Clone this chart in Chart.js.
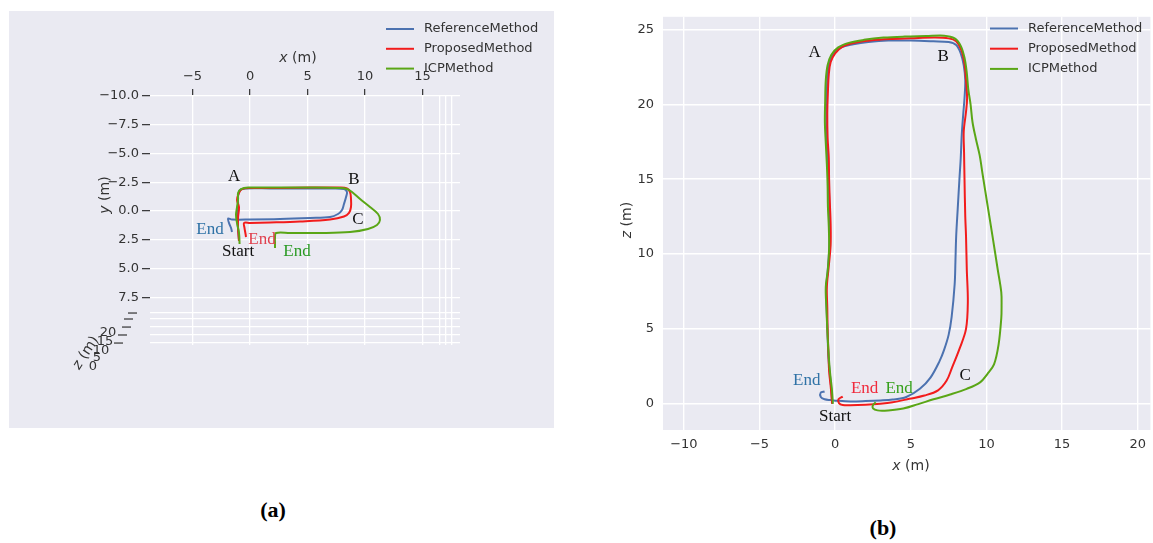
<!DOCTYPE html>
<html>
<head>
<meta charset="utf-8">
<script src="https://cdn.jsdelivr.net/npm/chart.js@4.4.1/dist/chart.umd.min.js"></script>
<style>
  html, body { margin: 0; padding: 0; background: #ffffff; }
  body { width: 1153px; height: 543px; position: relative; overflow: hidden; font-family: "DejaVu Sans", sans-serif; }
  #wrapA { position: absolute; left: 9px; top: 11px; width: 545px; height: 417px; }
  #wrapB { position: absolute; left: 600px; top: 0px; width: 553px; height: 490px; }
  .cap { position: absolute; transform: translate(-50%, -50%); font-family: "Liberation Serif", "DejaVu Serif", serif; font-weight: bold; font-size: 22px; color: #000; }
</style>
</head>
<body>
<div id="wrapA"><canvas id="chartA" width="545" height="417"></canvas></div>
<div id="wrapB"><canvas id="chartB" width="553" height="490"></canvas></div>
<div class="cap" style="left:273px; top:510px;">(a)</div>
<div class="cap" style="left:883px; top:528px;">(b)</div>

<script>
// ---- series ----
const seriesNames  = ['ReferenceMethod', 'ProposedMethod', 'ICPMethod'];
const seriesColors = ['#4c72b0', '#f21c1c', '#5aa616'];

// (a) 3D view, projected onto the x (m) / y (m) plane
const refA = [[-0.96,2.61],[-1.04,1.57],[-1.13,0.52],[-1.04,-0.52],[-1.04,-1.30],[-0.87,-1.83],[-0.35,-1.96],
  [1.74,-1.96],[4.35,-1.96],[6.96,-1.96],[8.17,-1.91],[8.43,-1.65],[8.35,-1.22],[8.17,-0.61],[8.0,-0.09],
  [7.65,0.26],[6.96,0.52],[5.22,0.61],[2.61,0.70],[0,0.74],[-1.57,0.74],[-1.91,0.65],[-1.83,1.04],[-1.65,1.48],[-1.57,1.83]];
const propA = [[-0.96,2.61],[-1.04,1.57],[-1.04,0.52],[-0.96,-0.35],[-1.13,-0.96],[-0.96,-1.57],[-0.70,-1.91],
  [0,-2.0],[2.61,-2.0],[5.22,-2.04],[7.83,-2.04],[8.43,-1.96],[8.70,-1.65],[8.78,-1.04],[8.78,-0.35],[8.61,0.17],
  [8.17,0.48],[6.96,0.74],[4.35,0.91],[1.74,1.0],[0,1.04],[-0.52,1.04],[-0.48,1.48],[-0.39,2.0],[-0.35,2.26]];
const icpA = [[-0.91,2.87],[-0.96,1.91],[-1.13,1.04],[-1.22,0.35],[-1.13,-0.35],[-1.04,-1.04],[-1.04,-1.57],
  [-0.78,-1.91],[-0.17,-2.04],[2.61,-2.04],[5.22,-2.04],[7.83,-2.0],[8.43,-1.91],[8.87,-1.65],[9.57,-1.04],
  [10.43,-0.35],[11.13,0.26],[11.30,0.78],[11.04,1.22],[10.26,1.57],[8.70,1.83],[6.09,1.91],[3.48,1.91],
  [2.26,1.91],[2.17,2.35],[2.17,2.78],[2.17,3.22]];

// (b) top view, x (m) / z (m)
const refB = [[-0.2,0.0],[-0.25,0.9],[-0.35,2.0],[-0.45,3.2],[-0.5,4.6],[-0.55,6.0],[-0.6,7.6],[-0.5,8.8],
  [-0.4,10.2],[-0.35,11.6],[-0.38,13.0],[-0.42,14.6],[-0.48,16.0],[-0.55,17.6],[-0.58,19.2],[-0.55,20.6],
  [-0.5,22.0],[-0.38,22.8],[-0.1,23.4],[0.4,23.8],[1.2,24.0],[2.2,24.15],[3.5,24.25],[5.0,24.25],[6.5,24.2],
  [7.5,24.15],[8.0,23.95],[8.3,23.4],[8.5,22.6],[8.6,21.6],[8.55,20.4],[8.47,19.4],[8.37,18.0],[8.3,16.4],
  [8.22,15.1],[8.1,13.0],[8.0,11.2],[7.95,9.5],[7.9,8.0],[7.7,5.8],[7.5,4.6],[7.2,3.6],[6.9,2.85],[6.3,1.75],
  [5.6,1.0],[4.7,0.45],[3.8,0.28],[3.0,0.22],[2.0,0.18],[1.0,0.16],[0.2,0.2],[-0.3,0.25],[-0.7,0.3],
  [-0.95,0.45],[-0.95,0.75],[-0.7,0.82]];
const propB = [[-0.2,0.0],[-0.28,1.0],[-0.4,2.2],[-0.45,3.6],[-0.5,5.0],[-0.52,6.4],[-0.55,7.8],[-0.42,9.2],
  [-0.3,10.6],[-0.3,12.0],[-0.35,13.4],[-0.4,15.0],[-0.42,16.4],[-0.5,17.8],[-0.52,19.4],[-0.48,20.8],
  [-0.42,22.0],[-0.3,22.8],[0.0,23.4],[0.5,23.85],[1.3,24.1],[2.3,24.25],[3.6,24.35],[5.0,24.4],[6.5,24.45],
  [7.5,24.4],[8.0,24.2],[8.35,23.6],[8.55,22.7],[8.65,21.6],[8.72,20.4],[8.65,19.5],[8.5,18.2],[8.52,16.8],
  [8.55,15.0],[8.6,12.5],[8.65,11.2],[8.7,9.0],[8.77,6.8],[8.65,5.0],[8.23,3.7],[7.72,2.4],[7.37,1.55],
  [6.8,0.9],[5.9,0.55],[4.9,0.33],[3.8,0.1],[3.0,0.0],[2.0,-0.07],[1.0,-0.1],[0.5,-0.08],[0.25,0.05],
  [0.22,0.3],[0.5,0.48]];
const icpB = [[-0.15,0.0],[-0.22,1.0],[-0.35,2.2],[-0.45,3.6],[-0.52,5.0],[-0.58,6.4],[-0.62,7.8],[-0.48,9.0],
  [-0.4,10.4],[-0.42,11.8],[-0.48,13.2],[-0.5,14.6],[-0.55,16.0],[-0.62,17.4],[-0.68,18.8],[-0.66,20.2],
  [-0.62,21.6],[-0.5,22.6],[-0.25,23.3],[0.2,23.8],[0.9,24.1],[1.9,24.3],[3.2,24.45],[4.6,24.52],[6.0,24.55],
  [7.2,24.58],[7.9,24.4],[8.3,23.9],[8.55,23.1],[8.7,22.1],[8.8,21.0],[8.95,20.0],[9.08,18.8],[9.3,17.7],
  [9.55,16.6],[9.75,15.3],[10.05,13.4],[10.4,11.2],[10.74,9.0],[10.98,7.45],[11.0,6.5],[10.98,5.7],
  [10.8,3.94],[10.5,2.63],[10.05,1.97],[9.6,1.45],[8.7,1.0],[7.6,0.62],[6.5,0.3],[5.5,-0.02],[4.5,-0.32],
  [3.5,-0.44],[2.8,-0.44],[2.5,-0.3],[2.5,-0.08],[2.68,0.1]];

// ---- ticks ----
const xTicksA = [-5, 0, 5, 10, 15];
const yTicksA = [-10, -7.5, -5, -2.5, 0, 2.5, 5, 7.5];
const zTickLabelsA = ['20', '15', '10', '5', '0'];
const xTicksB = [-10, -5, 0, 5, 10, 15, 20];
const zTicksB = [0, 5, 10, 15, 20, 25];

// ---- point labels ----
const notesA = [
  { text: 'A', x: -1.39, y: -3.04, color: '#111' },
  { text: 'B', x: 9.04, y: -2.78, color: '#111' },
  { text: 'C', x: 9.39, y: 0.78, color: '#111' },
  { text: 'End', x: -3.48, y: 1.65, color: '#2f72a6' },
  { text: 'End', x: 1.04, y: 2.52, color: '#e0404e' },
  { text: 'Start', x: -1.04, y: 3.48, color: '#111' },
  { text: 'End', x: 4.09, y: 3.48, color: '#2a9a24' }
];
const notesB = [
  { text: 'A', x: -1.35, y: 23.43, color: '#111' },
  { text: 'B', x: 7.14, y: 23.2, color: '#111' },
  { text: 'C', x: 8.6, y: 1.86, color: '#111' },
  { text: 'End', x: -1.88, y: 1.53, color: '#2f72a6' },
  { text: 'End', x: 1.95, y: 1.05, color: '#f02a3c' },
  { text: 'End', x: 4.23, y: 1.05, color: '#36a01c' },
  { text: 'Start', x: 0.0, y: -0.88, color: '#111' }
];

const MINUS = '\u2212';
function fmt(v, d) { return (v < 0 ? MINUS : '') + Math.abs(v).toFixed(d); }
const toXY = arr => arr.map(p => ({ x: p[0], y: p[1] }));
const TXT = '#333333';
const PANE = '#eaeaf2';

// floor rows of the projected z axis and side-pane columns in the 3D view
const zRowsA = [8.87, 9.39, 10.09, 10.78, 11.48];
const sideColsA = [16.52, 17.04, 17.57];

function makeDatasets(sets) {
  const order = [2, 1, 0];
  return sets.map((d, i) => ({
    label: seriesNames[i],
    data: toXY(d),
    borderColor: seriesColors[i],
    backgroundColor: seriesColors[i],
    borderWidth: 2,
    pointRadius: 0,
    showLine: true,
    tension: 0.35,
    fill: false,
    order: order[i]
  }));
}

const bgPlugin = {
  id: 'paneBg',
  beforeDraw(c, args, o) {
    const ctx = c.ctx; ctx.save(); ctx.fillStyle = o.color;
    if (o.full) ctx.fillRect(0, 0, c.width, c.height);
    else { const a = c.chartArea; ctx.fillRect(a.left, a.top, a.right - a.left, a.bottom - a.top); }
    ctx.restore();
  }
};

const legendPlugin = {
  id: 'seriesKey',
  afterDatasetsDraw(c, args, o) {
    const ctx = c.ctx; ctx.save();
    ctx.font = '13px "DejaVu Sans"'; ctx.textBaseline = 'middle'; ctx.textAlign = 'left';
    c.data.datasets.forEach((ds, i) => {
      const y = o.y + i * o.dy;
      ctx.strokeStyle = ds.borderColor; ctx.lineWidth = 2;
      ctx.beginPath(); ctx.moveTo(o.x, y); ctx.lineTo(o.x + o.len, y); ctx.stroke();
      ctx.fillStyle = TXT; ctx.fillText(ds.label, o.x + o.len + 10, y);
    });
    ctx.restore();
  }
};

const notePlugin = {
  id: 'pointNotes',
  afterDatasetsDraw(c, args, o) {
    const ctx = c.ctx, xs = c.scales.x, ys = c.scales.y;
    ctx.save(); ctx.font = '17px "Liberation Serif", "DejaVu Serif", serif';
    ctx.textAlign = 'center'; ctx.textBaseline = 'middle';
    o.items.forEach(n => { ctx.fillStyle = n.color; ctx.fillText(n.text, xs.getPixelForValue(n.x), ys.getPixelForValue(n.y)); });
    ctx.restore();
  }
};

function drawAxisTitle(ctx, v, x, y, rot) {
  ctx.save(); ctx.translate(x, y); ctx.rotate(rot);
  ctx.textBaseline = 'middle'; ctx.textAlign = 'left'; ctx.fillStyle = TXT;
  ctx.font = 'italic 14px "DejaVu Sans"'; const w1 = ctx.measureText(v).width;
  ctx.font = '14px "DejaVu Sans"'; const w2 = ctx.measureText(' (m)').width;
  const s = -(w1 + w2) / 2;
  ctx.font = 'italic 14px "DejaVu Sans"'; ctx.fillText(v, s, 0);
  ctx.font = '14px "DejaVu Sans"'; ctx.fillText(' (m)', s + w1, 0);
  ctx.restore();
}

const titlesPlugin = {
  id: 'axisTitles',
  afterDraw(c, args, o) {
    const ctx = c.ctx;
    o.items.forEach(t => drawAxisTitle(ctx, t.v, t.x, t.y, t.rot));
    if (o.zAxis) {
      // projected z axis: short tick dashes and their labels
      const ys = c.scales.y, left = c.chartArea.left;
      ctx.save(); ctx.strokeStyle = TXT; ctx.lineWidth = 1.2;
      const dashOff = [13, 17, 19, 23, 27];
      zRowsA.forEach((r, i) => {
        const py = ys.getPixelForValue(r);
        ctx.beginPath(); ctx.moveTo(left - dashOff[i] - 9, py); ctx.lineTo(left - dashOff[i], py); ctx.stroke();
      });
      ctx.font = '13px "DejaVu Sans"'; ctx.fillStyle = TXT; ctx.textAlign = 'center'; ctx.textBaseline = 'middle';
      const lx = [99, 96, 92, 88, 84], ly = [322, 331, 340, 347, 356];
      zTickLabelsA.forEach((s, i) => ctx.fillText(s, lx[i], ly[i]));
      ctx.restore();
    }
  }
};

// ---------- (a) 3D trajectory view ----------
new Chart(document.getElementById('chartA'), {
  type: 'scatter',
  data: { datasets: makeDatasets([refA, propA, icpA]) },
  plugins: [bgPlugin, notePlugin, legendPlugin, titlesPlugin],
  options: {
    responsive: false, animation: false, devicePixelRatio: 1,
    layout: { padding: { left: 0, top: 0, right: 94, bottom: 83 } },
    scales: {
      x: {
        type: 'linear', position: 'top', min: -8.70, max: 18.26,
        afterFit: s => { s.height = 85; },
        afterBuildTicks: s => { s.ticks = xTicksA.concat(sideColsA).map(v => ({ value: v })); },
        ticks: {
          autoSkip: false, maxRotation: 0, padding: 5, color: TXT, font: { family: 'DejaVu Sans', size: 13 },
          callback: (v, i) => (i < xTicksA.length ? fmt(v, 0) : '')
        },
        grid: {
          color: '#ffffff', lineWidth: 1.3, drawTicks: true, tickLength: 7, tickWidth: 1.2,
          tickColor: ctx => (ctx.index < xTicksA.length ? TXT : 'rgba(0,0,0,0)')
        },
        border: { display: false }
      },
      y: {
        type: 'linear', reverse: true, min: -10, max: 11.65,
        afterFit: s => { s.width = 141; },
        afterBuildTicks: s => { s.ticks = yTicksA.concat(zRowsA).map(v => ({ value: v })); },
        ticks: {
          autoSkip: false, padding: 3, color: TXT, font: { family: 'DejaVu Sans', size: 13 },
          callback: (v, i) => (i < yTicksA.length ? fmt(v, 1) : '')
        },
        grid: {
          color: '#ffffff', lineWidth: 1.3, drawTicks: true, tickLength: 8, tickWidth: 1.2,
          tickColor: ctx => (ctx.index < yTicksA.length ? TXT : 'rgba(0,0,0,0)')
        },
        border: { display: false }
      }
    },
    plugins: {
      legend: { display: false }, tooltip: { enabled: false },
      paneBg: { color: PANE, full: true },
      seriesKey: { x: 377, y: 18, dy: 19.8, len: 28 },
      pointNotes: { items: notesA },
      axisTitles: {
        zAxis: true,
        items: [
          { v: 'x', x: 289, y: 47, rot: 0 },
          { v: 'y', x: 96, y: 184, rot: -Math.PI / 2 },
          { v: 'z', x: 77, y: 342, rot: -1.0 }
        ]
      }
    }
  }
});

// ---------- (b) top view ----------
new Chart(document.getElementById('chartB'), {
  type: 'scatter',
  data: { datasets: makeDatasets([refB, propB, icpB]) },
  plugins: [bgPlugin, notePlugin, legendPlugin, titlesPlugin],
  options: {
    responsive: false, animation: false, devicePixelRatio: 1,
    layout: { padding: { left: 0, top: 10, right: 0, bottom: 0 } },
    scales: {
      x: {
        type: 'linear', position: 'bottom', min: -11.38, max: 20.84,
        afterFit: s => { s.height = 60; },
        afterBuildTicks: s => { s.ticks = xTicksB.map(v => ({ value: v })); },
        ticks: { autoSkip: false, maxRotation: 0, padding: 7, color: TXT, font: { family: 'DejaVu Sans', size: 13 }, callback: v => fmt(v, 0) },
        grid: { color: '#ffffff', lineWidth: 1.4, drawTicks: false },
        border: { display: false }
      },
      y: {
        type: 'linear', min: -1.75, max: 25.84,
        afterFit: s => { s.width = 63; },
        afterBuildTicks: s => { s.ticks = zTicksB.map(v => ({ value: v })); },
        ticks: { autoSkip: false, padding: 9, color: TXT, font: { family: 'DejaVu Sans', size: 13 }, callback: v => fmt(v, 0) },
        grid: { color: '#ffffff', lineWidth: 1.4, drawTicks: false },
        border: { display: false }
      }
    },
    plugins: {
      legend: { display: false }, tooltip: { enabled: false },
      paneBg: { color: PANE, full: false },
      seriesKey: { x: 390, y: 28.5, dy: 20.2, len: 28 },
      pointNotes: { items: notesB },
      axisTitles: {
        zAxis: false,
        items: [
          { v: 'x', x: 311, y: 466, rot: 0 },
          { v: 'z', x: 27, y: 220, rot: -Math.PI / 2 }
        ]
      }
    }
  }
});
</script>
</body>
</html>
